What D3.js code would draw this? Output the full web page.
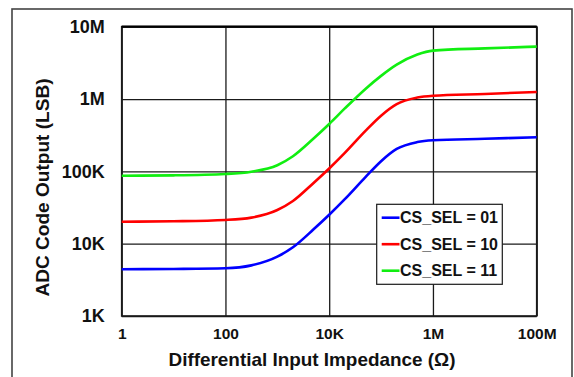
<!DOCTYPE html>
<html>
<head>
<meta charset="utf-8">
<script src="https://cdn.jsdelivr.net/npm/d3@7"></script>
<style>
  html, body { margin: 0; padding: 0; background: #fff; }
  svg { display: block; }
  text { font-family: "Liberation Sans", Arial, sans-serif; font-weight: bold; fill: #111; }
</style>
</head>
<body>
<svg id="chart" width="574" height="377"></svg>
<script>
// ---- data ----
const impedance = [1, 10, 100, 316, 1000, 2000, 5000, 10000, 20000, 50000, 1e5, 2e5, 5e5, 1e6, 1e7, 1e8];
const sel01 = [4430, 4470, 4570, 5010, 6610, 8910, 15800, 25100, 41200, 83200, 138000, 204000, 254000, 269000, 282000, 296000];
const sel10 = [20100, 20400, 21300, 22900, 29200, 38900, 69200, 109600, 180000, 363000, 589000, 851000, 1047000, 1109000, 1175000, 1253000];
const sel11 = [87100, 88100, 92000, 98900, 121600, 162000, 285000, 452000, 741000, 1380000, 2089000, 2985000, 4121000, 4667000, 5012000, 5309000];
const seriesNames = ["CS_SEL = 01", "CS_SEL = 10", "CS_SEL = 11"];
const seriesColors = ["#0000ff", "#ff0000", "#11ee11"];
const xTickValues = [1, 100, 1e4, 1e6, 1e8];
const xTickLabels = ["1", "100", "10K", "1M", "100M"];
const yTickValues = [1e3, 1e4, 1e5, 1e6, 1e7];
const yTickLabels = ["1K", "10K", "100K", "1M", "10M"];
const xTitle = "Differential Input Impedance (\u03A9)";
const yTitle = "ADC Code Output (LSB)";

// ---- layout ----
const L = 121.7, R = 536.7, T = 26.7, B = 316;
const svg = d3.select("#chart");

// outer frame
svg.append("rect").attr("x", 12).attr("y", 9).attr("width", 560).attr("height", 400)
  .attr("fill", "none").attr("stroke", "#444").attr("stroke-width", 1.6);

const x = d3.scaleLog().domain([1, 1e8]).range([L, R]);
const y = d3.scaleLog().domain([1e3, 1e7]).range([B, T]);

// grid via axes
const gx = svg.append("g").attr("transform", `translate(0,${B})`)
  .call(d3.axisBottom(x).tickValues(xTickValues)
    .tickFormat((d, i) => xTickLabels[i]).tickSize(-(B - T)).tickPadding(12));
gx.select(".domain").remove();
gx.selectAll("line").attr("stroke", "#1a1a1a").attr("stroke-width", 1.3);
gx.selectAll("text").style("font-size", "15.5px").attr("fill", "#111");

const gy = svg.append("g").attr("transform", `translate(${L},0)`)
  .call(d3.axisLeft(y).tickValues(yTickValues)
    .tickFormat((d, i) => yTickLabels[i]).tickSize(-(R - L)).tickPadding(17));
gy.select(".domain").remove();
gy.selectAll("line").attr("stroke", "#1a1a1a").attr("stroke-width", 1.3);
gy.selectAll("text").style("font-size", "18px").attr("fill", "#111");

// plot border
svg.append("rect").attr("x", L).attr("y", T).attr("width", R - L).attr("height", B - T)
  .attr("fill", "none").attr("stroke", "#1a1a1a").attr("stroke-width", 1.6);
svg.append("line").attr("x1", L).attr("x2", R).attr("y1", T).attr("y2", T)
  .attr("stroke", "#000").attr("stroke-width", 2.2);

// curves
const allSeries = [sel01, sel10, sel11];
const line = d3.line().x((d, i) => x(impedance[i])).y(d => y(d)).curve(d3.curveMonotoneX);
allSeries.forEach((s, k) => {
  svg.append("path").datum(s).attr("d", line)
    .attr("fill", "none").attr("stroke", seriesColors[k]).attr("stroke-width", 2.6);
});

// legend
const lg = svg.append("g");
lg.append("rect").attr("x", 376.7).attr("y", 204.3).attr("width", 125.6).attr("height", 80)
  .attr("fill", "#fff").attr("stroke", "#1a1a1a").attr("stroke-width", 1.2);
seriesNames.forEach((n, k) => {
  const yy = 217.7 + k * 26.5;
  lg.append("line").attr("x1", 381.7).attr("x2", 399.5).attr("y1", yy).attr("y2", yy)
    .attr("stroke", seriesColors[k]).attr("stroke-width", 2.6);
  lg.append("text").attr("x", 400).attr("y", yy).attr("dy", "0.36em")
    .style("font-size", "16px").text(n);
});

// axis titles
svg.append("text").attr("x", 312).attr("y", 366).attr("text-anchor", "middle")
  .style("font-size", "18.5px").attr("textLength", 287).attr("lengthAdjust", "spacingAndGlyphs")
  .text(xTitle);
svg.append("text").attr("transform", "translate(48.5,187.5) rotate(-90)").attr("text-anchor", "middle")
  .style("font-size", "18.5px").attr("textLength", 218).attr("lengthAdjust", "spacingAndGlyphs")
  .text(yTitle);
</script>
</body>
</html>
